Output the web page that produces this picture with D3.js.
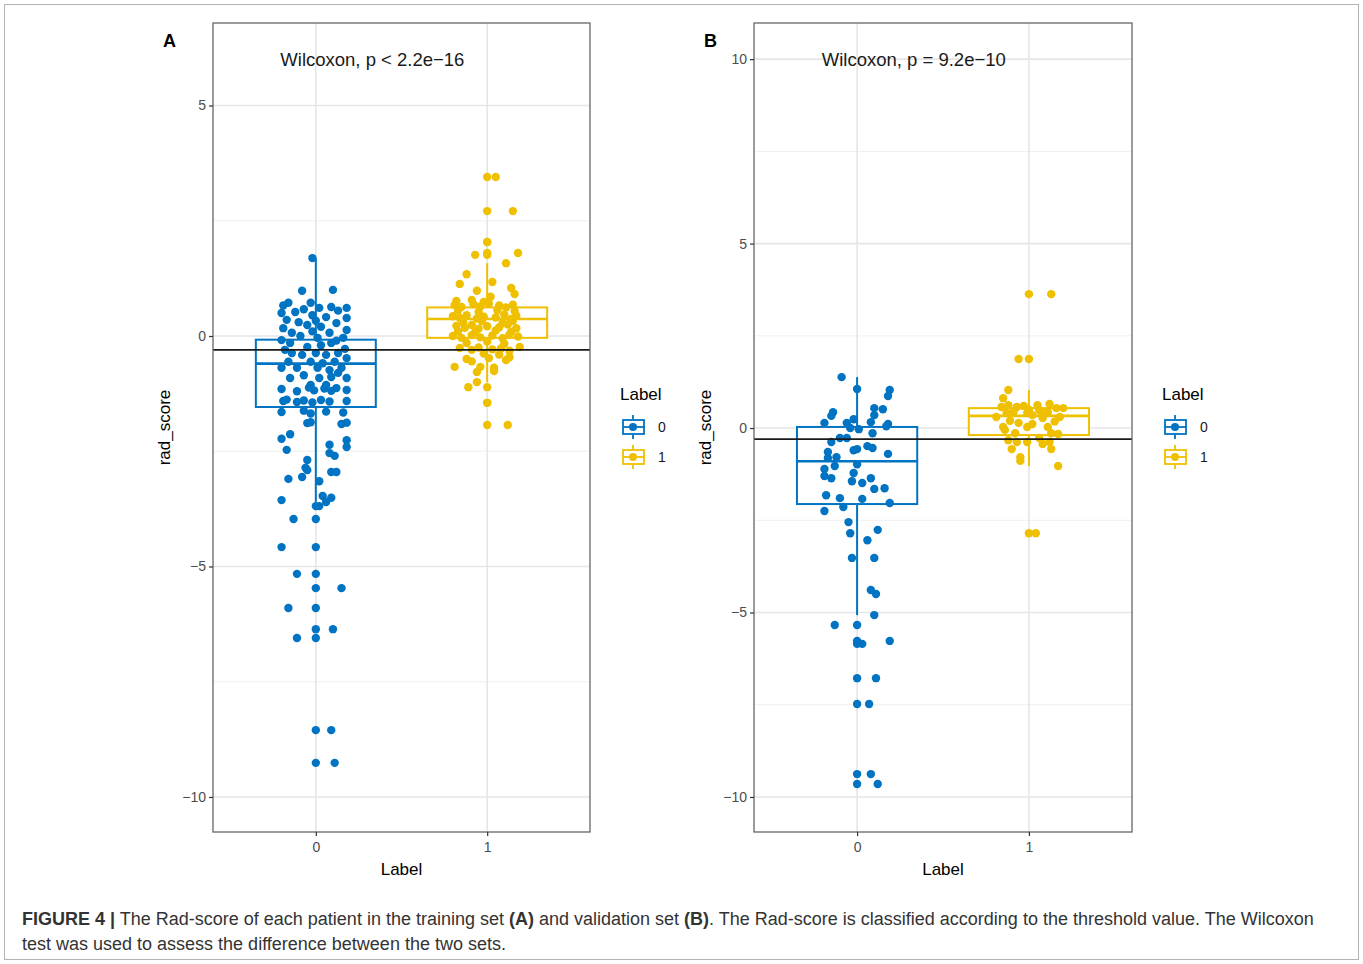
<!DOCTYPE html>
<html>
<head>
<meta charset="utf-8">
<script src="https://cdn.jsdelivr.net/npm/d3@7"></script>
<style>
body { margin: 0; background: #fff; }
text { font-family: "Liberation Sans", Arial, Helvetica, sans-serif; }
</style>
</head>
<body>
<div id="fig"></div>
<script>
const groups = ["0", "1"];
const colors = ["#0073C2", "#EFC000"];
const threshold = -0.3;

// points: [rad_score, horizontal jitter in category units]
const trainLabel0 = [
  [1.69,-0.02],[0.98,-0.08],[1.0,0.10],
  [0.72,-0.16],[0.72,-0.03],[0.61,0.02],[0.63,0.09],[0.61,0.18],[0.50,-0.20],[0.52,-0.12],
  [0.35,-0.17],[0.24,-0.05],[0.41,0.06],[0.28,0.12],[0.39,0.18],[0.13,0.18],[0.17,-0.19],
  [0.07,-0.14],[0.07,0.08],[-0.04,0.01],[-0.09,-0.20],[-0.15,-0.15],[-0.04,0.16],[-0.24,-0.05],
  [-0.20,0.03],[-0.15,0.09],[-0.37,-0.14],[-0.41,-0.08],[-0.37,0],[-0.41,0.06],[-0.37,0.13],
  [-0.48,0.18],[-0.56,-0.16],[-0.56,-0.03],[-0.59,0.04],[-0.56,0.11],[-0.69,-0.20],[-0.69,-0.11],
  [-0.69,0.01],[-0.74,0.08],[-0.69,0.15],[-0.91,-0.15],[-0.85,-0.07],[-0.91,0.02],[-0.89,0.09],
  [-0.91,0.18],[-1.06,-0.03],[-1.06,0.06],[0.45,-0.02],[0.20,0.03],[-0.30,-0.18],[-0.80,0.13],[0.0,-0.09],
  [0.66,-0.19],[0.58,-0.07],[0.55,0.13],[0.30,-0.10],[0.33,0.00],[0.10,-0.02],[-0.10,0.12],[-0.28,0.17],
  [-1.15,-0.20],[-1.20,-0.11],[-1.12,-0.04],[-1.18,-0.01],[-1.14,0.05],[-1.19,0.09],[-1.13,0.12],[-1.17,0.18],
  [-1.41,-0.19],[-1.38,-0.17],[-1.43,-0.11],[-1.40,-0.07],[-1.44,-0.02],[-1.39,0.03],[-1.42,0.08],[-1.41,0.18],
  [-1.65,-0.20],[-1.62,-0.07],[-1.68,-0.03],[-1.64,0.06],[-1.66,0.16],
  [-1.89,-0.05],[-1.87,-0.03],[-1.91,0.15],[-1.88,0.18],
  [-2.23,-0.20],[-2.13,-0.15],[-2.47,-0.17],[-2.36,0.08],[-2.26,0.18],[-2.41,0.18],[-2.69,-0.05],
  [-2.54,0.08],[-2.60,0.11],[-2.86,-0.06],[-2.91,-0.05],[-2.95,0.09],[-2.95,0.12],[-3.10,-0.16],
  [-3.06,-0.08],[-3.15,0.02],[-3.56,-0.20],[-3.47,0.04],[-3.60,0.06],[-3.51,0.09],
  [-3.69,0.02],[-3.97,-0.13],[-4.58,-0.20],[-5.16,-0.11],[-5.47,0.15],[-5.90,-0.16],[-6.36,0.10],
  [-6.55,-0.11],[-8.55,0.09],[-9.26,0.11]
];
const trainLabel1 = [
  [3.45,0.05],[2.71,0.15],[2.04,0.0],[1.76,-0.07],[1.80,0.18],[1.58,0.11],[1.34,-0.12],[1.13,-0.16],
  [1.17,0.03],[0.98,-0.06],[1.04,0.14],[0.91,0.16],[0.76,-0.18],[0.78,-0.09],[0.74,-0.02],[0.85,0.02],
  [0.67,-0.19],[0.63,-0.15],[0.69,-0.08],[0.64,-0.04],[0.70,0.01],[0.66,0.07],[0.62,0.11],[0.68,0.15],
  [0.55,-0.17],[0.52,-0.05],[0.56,0.06],[0.54,0.16],
  [0.43,-0.20],[0.39,-0.16],[0.45,-0.12],[0.38,-0.06],[0.42,-0.02],[0.40,0.05],[0.46,0.10],[0.37,0.14],[0.44,0.17],
  [0.30,-0.14],[0.32,-0.03],[0.28,0.09],[0.33,0.15],
  [0.22,-0.18],[0.18,-0.13],[0.24,-0.09],[0.16,-0.05],[0.21,0],[0.19,0.07],[0.25,0.12],[0.17,0.17],
  [0.10,-0.17],[0.08,-0.07],[0.12,0.05],[0.09,0.14],
  [0.0,-0.20],[-0.04,-0.15],[0.02,-0.09],[-0.03,-0.04],[0.01,0.03],[-0.05,0.09],[0.03,0.13],[-0.01,0.18],
  [-0.15,-0.12],[-0.12,0.0],[-0.17,0.10],
  [-0.26,-0.16],[-0.30,-0.09],[-0.25,-0.05],[-0.29,0.03],[-0.27,0.08],[-0.32,0.13],[-0.24,0.19],
  [-0.38,-0.02],[-0.40,0.07],
  [-0.50,-0.12],[-0.55,-0.09],[-0.48,0.01],[-0.52,0.11],[-0.46,0.13],
  [-0.67,-0.19],[-0.78,-0.06],[-0.67,-0.04],[-0.69,0.04],[-0.76,0.04],[-1.0,-0.06],
  [-1.11,-0.11],[-1.45,0.0],[-1.93,0.12]
];
const validLabel0 = [
  [1.38,-0.09],[1.06,0.0],[1.03,0.19],[0.87,0.18],[0.43,-0.14],[0.33,-0.15],[0.54,0.10],[0.51,0.15],
  [0.35,0.10],[0.14,-0.19],[0.14,-0.06],[0.24,-0.02],[0.16,0.08],[0.11,0.18],[0.0,-0.04],[-0.03,0.01],
  [-0.14,0.09],[0.05,0.17],[-0.38,-0.15],[-0.27,-0.10],[-0.27,-0.06],[-0.65,-0.17],[-0.60,-0.02],
  [-0.57,0.0],[-0.49,0.06],[-0.54,0.09],[-0.81,-0.17],[-0.79,-0.12],[-0.70,0.18],[-1.03,-0.13],
  [-0.98,0.0],[-1.11,-0.19],[-1.30,-0.19],[-1.36,-0.15],[-1.22,-0.02],[-1.44,-0.03],[-1.49,0.03],
  [-1.36,0.08],[-1.65,0.10],[-1.63,0.16],[-1.82,-0.18],[-1.90,-0.10],[-1.92,0.03],[-2.03,0.19],
  [-2.25,-0.19],[-2.14,-0.08],[-2.55,-0.05],[-2.85,-0.04],[-2.76,0.12],[-3.04,0.06],[-3.52,-0.03],
  [-3.52,0.10],[-4.39,0.08],[-4.50,0.11],[-5.07,0.10],[-5.34,-0.13],[-5.77,0.19],[-5.85,0.03],
  [-6.78,0.11],[-7.48,0.07],[-9.38,0.08],[-9.65,0.12]
];
const validLabel1 = [
  [3.63,0.13],[1.87,-0.06],[1.03,-0.12],[0.81,-0.15],[0.57,-0.16],[0.62,-0.12],[0.57,-0.07],[0.60,-0.03],
  [0.62,0.05],[0.65,0.12],[0.54,0.16],[0.54,0.20],[0.30,-0.19],[0.41,-0.13],[0.43,-0.09],[0.41,-0.01],
  [0.35,0.02],[0.41,0.08],[0.43,0.11],[0.30,0.18],[0.03,-0.15],[0.14,-0.06],[0.03,-0.01],[0.11,0.02],
  [0.03,0.11],[0.27,0.08],[-0.05,-0.14],[-0.14,-0.08],[-0.14,0.13],[-0.16,0.17],[-0.33,-0.12],
  [-0.38,-0.07],[-0.38,-0.01],[-0.27,0.06],[-0.43,0.08],[-0.38,0.12],[-0.57,-0.10],[-0.57,0.13],
  [-0.79,-0.05],[-0.89,-0.05],[-1.03,0.17],[-2.85,0.04],
  [0.50,0.0],[0.48,0.06],[0.20,-0.11],[0.18,0.15]
];

// box statistics: [lower whisker, q1, median, q3, upper whisker]
const trainBoxes = [[-3.6, -1.54, -0.6, -0.08, 1.69], [-1.0, -0.04, 0.37, 0.62, 1.58]];
const validBoxes = [[-5.07, -2.06, -0.9, 0.03, 1.38], [-1.03, -0.19, 0.33, 0.54, 1.03]];

const trainTicks = [-10, -5, 0, 5];
const trainMinor = [-7.5, -2.5, 2.5];
const validTicks = [-10, -5, 0, 5, 10];
const validMinor = [-7.5, -2.5, 2.5, 7.5];

const svg = d3.select("#fig").append("svg")
    .attr("width", 1363)
    .attr("height", 964);

svg.append("rect")
    .attr("x", 4.5).attr("y", 4.5)
    .attr("width", 1354).attr("height", 955)
    .attr("fill", "none")
    .attr("stroke", "#b3b3b3");

const panels = [
  {letter: "A", left: 213, right: 590, top: 23, bottom: 832, yDomain: [-10.76, 6.79],
   ticks: trainTicks, minor: trainMinor, boxes: trainBoxes, points: [trainLabel0, trainLabel1],
   test: "Wilcoxon, p < 2.2e\u221216"},
  {letter: "B", left: 754, right: 1132, top: 23, bottom: 832, yDomain: [-10.95, 10.98],
   ticks: validTicks, minor: validMinor, boxes: validBoxes, points: [validLabel0, validLabel1],
   test: "Wilcoxon, p = 9.2e\u221210"}
];

const fmt = d => d < 0 ? "\u2212" + Math.abs(d) : String(d);

panels.forEach(function(p) {
  const x = d3.scaleLinear().domain([-0.6, 1.6]).range([p.left, p.right]);
  const y = d3.scaleLinear().domain(p.yDomain).range([p.bottom, p.top]);
  const g = svg.append("g");

  // grid
  g.selectAll(".minor").data(p.minor).enter().append("line")
      .attr("x1", p.left).attr("x2", p.right)
      .attr("y1", d => y(d)).attr("y2", d => y(d))
      .attr("stroke", "#f0f0f0").attr("stroke-width", 1);
  g.selectAll(".major").data(p.ticks).enter().append("line")
      .attr("x1", p.left).attr("x2", p.right)
      .attr("y1", d => y(d)).attr("y2", d => y(d))
      .attr("stroke", "#e6e6e6").attr("stroke-width", 1.6);
  g.selectAll(".vmajor").data([0, 1]).enter().append("line")
      .attr("x1", d => x(d)).attr("x2", d => x(d))
      .attr("y1", p.top).attr("y2", p.bottom)
      .attr("stroke", "#e6e6e6").attr("stroke-width", 1.6);

  // boxes
  const bw = 0.35;
  p.boxes.forEach(function(b, i) {
    const c = colors[i];
    const bg = g.append("g").attr("stroke", c).attr("stroke-width", 2).attr("fill", "none");
    bg.append("line").attr("x1", x(i)).attr("x2", x(i)).attr("y1", y(b[3])).attr("y2", y(b[4]));
    bg.append("line").attr("x1", x(i)).attr("x2", x(i)).attr("y1", y(b[1])).attr("y2", y(b[0]));
    bg.append("rect")
        .attr("x", x(i - bw)).attr("width", x(i + bw) - x(i - bw))
        .attr("y", y(b[3])).attr("height", y(b[1]) - y(b[3]))
        .attr("fill", "#fff");
    bg.append("line").attr("x1", x(i - bw)).attr("x2", x(i + bw))
        .attr("y1", y(b[2])).attr("y2", y(b[2])).attr("stroke-width", 2.6);
    // outliers drawn at the category centre
    const outl = p.points[i].filter(d => d[0] < b[0] || d[0] > b[4]);
    g.selectAll(null).data(outl).enter().append("circle")
        .attr("cx", x(i)).attr("cy", d => y(d[0])).attr("r", 4.2)
        .attr("fill", c);
  });

  // jittered points
  p.points.forEach(function(pts, i) {
    g.selectAll(null).data(pts).enter().append("circle")
        .attr("cx", d => x(i + d[1])).attr("cy", d => y(d[0])).attr("r", 4.2)
        .attr("fill", colors[i]);
  });

  // threshold
  g.append("line")
      .attr("x1", p.left).attr("x2", p.right)
      .attr("y1", y(threshold)).attr("y2", y(threshold))
      .attr("stroke", "#1a1a1a").attr("stroke-width", 1.8);

  // border
  g.append("rect")
      .attr("x", p.left).attr("y", p.top)
      .attr("width", p.right - p.left).attr("height", p.bottom - p.top)
      .attr("fill", "none").attr("stroke", "#666").attr("stroke-width", 1.3);

  // axes
  const ya = g.append("g").attr("transform", `translate(${p.left},0)`)
      .call(d3.axisLeft(y).tickValues(p.ticks).tickSize(4).tickPadding(3).tickFormat(fmt));
  const xa = g.append("g").attr("transform", `translate(0,${p.bottom})`)
      .call(d3.axisBottom(x).tickValues([0, 1]).tickSize(4).tickPadding(6).tickFormat(i => groups[i]));
  [ya, xa].forEach(function(a) {
    a.attr("font-size", 14).attr("font-family", "'Liberation Sans', Arial, sans-serif");
    a.select(".domain").remove();
    a.selectAll(".tick line").attr("stroke", "#333").attr("stroke-width", 1.2);
    a.selectAll(".tick text").attr("fill", "#4d4d4d");
  });

  g.append("text")
      .attr("transform", `translate(${p.left - 43},${(p.top + p.bottom) / 2}) rotate(-90)`)
      .attr("text-anchor", "middle")
      .style("font-size", "17px")
      .text("rad_score");
  g.append("text")
      .attr("x", (p.left + p.right) / 2).attr("y", 875)
      .attr("text-anchor", "middle")
      .style("font-size", "17px")
      .text("Label");

  g.append("text")
      .attr("x", p.left - 50).attr("y", 47)
      .style("font-size", "18px").style("font-weight", "bold")
      .text(p.letter);

  g.append("text")
      .attr("x", x(0.33)).attr("y", 66)
      .attr("text-anchor", "middle")
      .style("font-size", "18.5px").attr("fill", "#1a1a1a")
      .text(p.test);

  // legend
  const lx = p.right + 30;
  const lg = g.append("g").attr("transform", `translate(${lx},0)`);
  lg.append("text").attr("x", 0).attr("y", 400).style("font-size", "17px").text("Label");
  groups.forEach(function(k, i) {
    const cy = 427 + i * 30;
    const key = lg.append("g").attr("stroke", colors[i]).attr("stroke-width", 1.8).attr("fill", "none");
    key.append("line").attr("x1", 13).attr("x2", 13).attr("y1", cy - 12).attr("y2", cy + 12);
    key.append("rect").attr("x", 3).attr("y", cy - 7).attr("width", 21).attr("height", 14).attr("fill", "#fff");
    key.append("line").attr("x1", 3).attr("x2", 24).attr("y1", cy).attr("y2", cy);
    lg.append("circle").attr("cx", 13).attr("cy", cy).attr("r", 4).attr("fill", colors[i]);
    lg.append("text").attr("x", 38).attr("y", cy + 5).style("font-size", "14px").attr("fill", "#1a1a1a").text(k);
  });
});

// caption
const cap = svg.append("g").style("font-size", "18px").attr("fill", "#333");
const l1 = cap.append("text").attr("x", 22).attr("y", 925);
l1.append("tspan").style("font-weight", "bold").text("FIGURE 4 |");
l1.append("tspan").text(" The Rad-score of each patient in the training set ");
l1.append("tspan").style("font-weight", "bold").text("(A)");
l1.append("tspan").text(" and validation set ");
l1.append("tspan").style("font-weight", "bold").text("(B)");
l1.append("tspan").text(". The Rad-score is classified according to the threshold value. The Wilcoxon");
cap.append("text").attr("x", 22).attr("y", 950)
    .text("test was used to assess the difference between the two sets.");
</script>
</body>
</html>
